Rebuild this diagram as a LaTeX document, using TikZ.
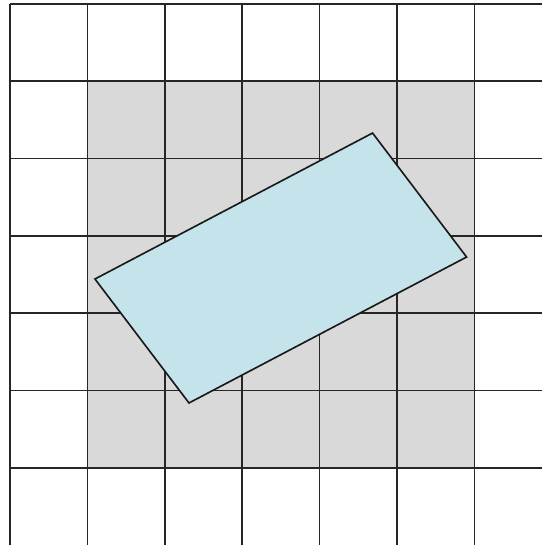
\documentclass[tikz,border=0pt]{standalone}
\usepackage{xcolor}
\usepackage{tikz}
\definecolor{cellGray}{HTML}{D9D9D9}
\definecolor{boxBlue}{HTML}{C4E3EA}

\begin{document}
\begin{tikzpicture}[
        gridline/.style={draw=black!85, line width=0.6pt},
        covered/.style={fill=cellGray},
        tilted/.style={draw=black!90, line width=0.6pt, fill=boxBlue},
      ]
      \useasboundingbox (-0.129,0.006) rectangle (6.873,7.048);
      % cells touched by the box
      \fill[covered] (1,1) rectangle (6,6);
      % grid
      \foreach \i in {0,...,7} {
        \draw[gridline] (\i,0) -- (\i,7);
        \draw[gridline] (0,\i) -- (7,\i);
      }
      % tilted box
      \coordinate (west)  at (1.098,3.443);
      \coordinate (north) at (4.685,5.329);
      \coordinate (east)  at (5.900,3.727);
      \coordinate (south) at (2.313,1.841);
      \draw[tilted] (west) -- (north) -- (east) -- (south) -- cycle;
    \end{tikzpicture}
\end{document}
